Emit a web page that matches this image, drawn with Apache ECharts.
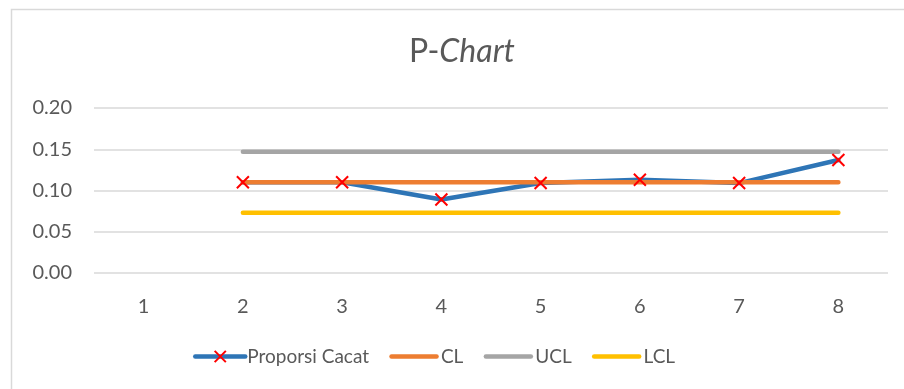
<!DOCTYPE html>
<html>
<head>
<meta charset="utf-8">
<script src="https://cdn.jsdelivr.net/npm/echarts@6/dist/echarts.min.js"></script>
<style>
  html, body { margin: 0; padding: 0; background: #fff; }
  #chart { width: 904px; height: 389px; }
</style>
</head>
<body>
<div id="chart"></div>
<script>
// Sample numbers 1..8
const categories = ['1', '2', '3', '4', '5', '6', '7', '8'];
// Proportion of defects per sample (no value for sample 1)
const proporsiCacat = [null, 0.110, 0.110, 0.089, 0.109, 0.113, 0.109, 0.137];
// Control limits
const clValues  = [null, 0.110, 0.110, 0.110, 0.110, 0.110, 0.110, 0.110];
const uclValues = [null, 0.147, 0.147, 0.147, 0.147, 0.147, 0.147, 0.147];
const lclValues = [null, 0.073, 0.073, 0.073, 0.073, 0.073, 0.073, 0.073];
const yTicks = [0, 0.05, 0.10, 0.15, 0.20];

const FONT = 'Lato, "Open Sans", sans-serif';
const TEXT = '#595959';
const crossPath = 'path://M0,0L10,10M10,0L0,10';
// thick bar legend icon; the bare moveTo points keep the full icon box
const barIcon = 'path://M0,0M0,14M2.5,4.75L47.5,4.75A2.25,2.25,0,0,1,47.5,9.25L2.5,9.25A2.25,2.25,0,0,1,2.5,4.75Z';

const chart = echarts.init(document.getElementById('chart'), null, { renderer: 'canvas' });

chart.setOption({
  animation: false,
  backgroundColor: '#ffffff',
  graphic: [{
    type: 'rect',
    shape: { x: 11.5, y: 9.5, width: 1000, height: 1000 },
    style: { fill: 'none', stroke: '#d9d9d9', lineWidth: 1.5 },
    silent: true
  }],
  title: {
    text: '{n|P-}{i|Chart}',
    left: 404,
    top: 31,
    textStyle: {
      rich: {
        n: { fontFamily: FONT, fontSize: 32, fontWeight: 'normal', color: TEXT },
        i: { fontFamily: FONT, fontSize: 32, fontWeight: 'normal', color: TEXT, fontStyle: 'italic' }
      }
    }
  },
  grid: { left: 94, right: 16, top: 108, bottom: 116, containLabel: false },
  legend: {
    data: [
      { name: 'Proporsi Cacat' },
      { name: 'CL', icon: barIcon },
      { name: 'UCL', icon: barIcon },
      { name: 'LCL', icon: barIcon }
    ],
    top: 342,
    left: 188,
    itemWidth: 50,
    itemHeight: 14,
    itemGap: 20,
    lineStyle: { width: 4.5, cap: 'round' },
    textStyle: { fontFamily: FONT, fontSize: 19, color: TEXT, padding: [0, 0, 0, -3] }
  },
  xAxis: {
    type: 'category',
    data: categories,
    boundaryGap: true,
    axisLine: { show: false },
    axisTick: { show: false },
    axisLabel: { fontFamily: FONT, fontSize: 20, color: TEXT, margin: 24 }
  },
  yAxis: {
    type: 'value',
    min: 0,
    max: 0.20,
    interval: 0.05,
    axisLine: { show: false },
    axisTick: { show: false },
    splitLine: { lineStyle: { color: '#d9d9d9', width: 1.5 } },
    axisLabel: {
      fontFamily: FONT, fontSize: 20, color: TEXT, margin: 22,
      formatter: v => v.toFixed(2)
    }
  },
  series: [
    {
      name: 'Proporsi Cacat',
      type: 'line',
      data: proporsiCacat,
      z: 2,
      symbol: crossPath,
      symbolSize: 12,
      showSymbol: false,
      itemStyle: { color: '#ff0000', borderColor: '#ff0000', borderWidth: 2 },
      lineStyle: { color: '#2e75b6', width: 4.5, cap: 'round', join: 'round' }
    },
    {
      name: 'CL',
      type: 'line',
      data: clValues,
      z: 3,
      symbol: 'none',
      itemStyle: { color: '#ed7d31' },
      lineStyle: { color: '#ed7d31', width: 4.5, cap: 'round' }
    },
    {
      name: 'UCL',
      type: 'line',
      data: uclValues,
      z: 3,
      symbol: 'none',
      itemStyle: { color: '#a5a5a5' },
      lineStyle: { color: '#a5a5a5', width: 4.5, cap: 'round' }
    },
    {
      name: 'LCL',
      type: 'line',
      data: lclValues,
      z: 3,
      symbol: 'none',
      itemStyle: { color: '#ffc000' },
      lineStyle: { color: '#ffc000', width: 4.5, cap: 'round' }
    },
    {
      // cross markers drawn above all lines
      name: 'markers',
      type: 'line',
      data: proporsiCacat,
      z: 5,
      symbol: crossPath,
      symbolSize: 12,
      lineStyle: { width: 0, opacity: 0 },
      itemStyle: { color: 'none', borderColor: '#ff0000', borderWidth: 2 }
    }
  ]
});
</script>
</body>
</html>
